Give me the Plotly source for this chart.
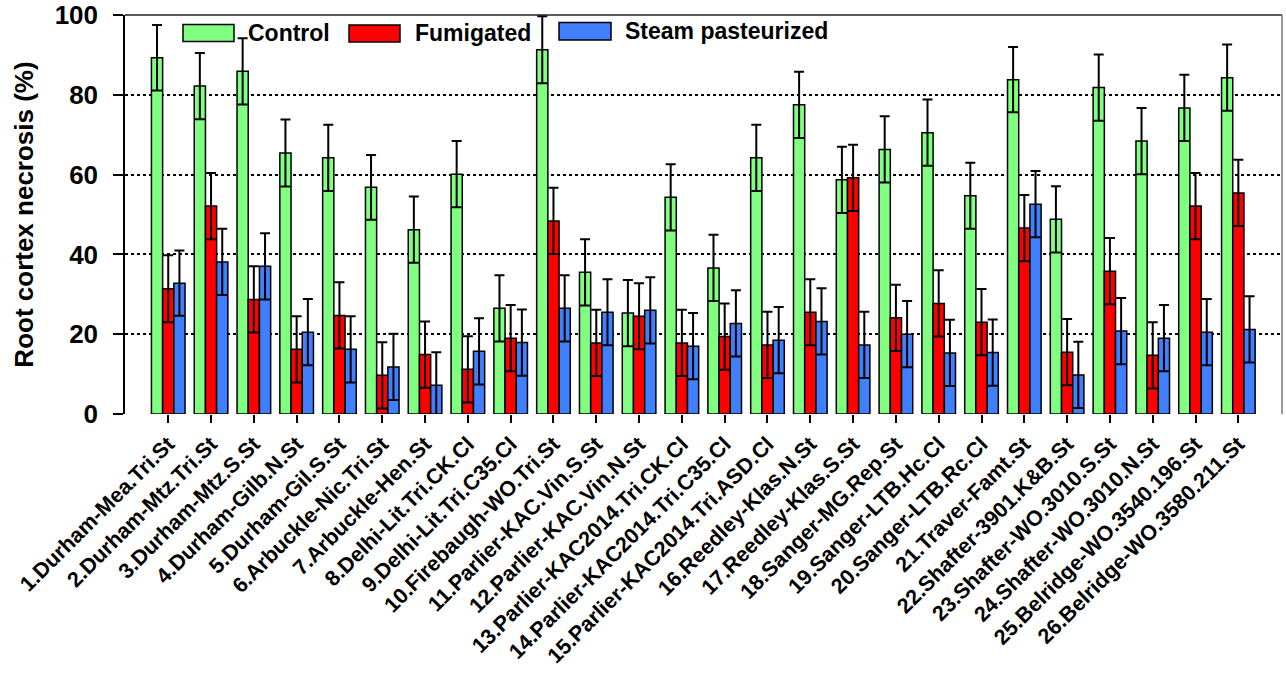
import plotly.graph_objects as go

# Sites (x categories)
sites = [
    "1.Durham-Mea.Tri.St", "2.Durham-Mtz.Tri.St", "3.Durham-Mtz.S.St",
    "4.Durham-Gilb.N.St", "5.Durham-Gil.S.St", "6.Arbuckle-Nic.Tri.St",
    "7.Arbuckle-Hen.St", "8.Delhi-Lit.Tri.CK.Cl", "9.Delhi-Lit.Tri.C35.Cl",
    "10.Firebaugh-WO.Tri.St", "11.Parlier-KAC.Vin.S.St", "12.Parlier-KAC.Vin.N.St",
    "13.Parlier-KAC2014.Tri.CK.Cl", "14.Parlier-KAC2014.Tri.C35.Cl",
    "15.Parlier-KAC2014.Tri.ASD.Cl", "16.Reedley-Klas.N.St", "17.Reedley-Klas.S.St",
    "18.Sanger-MG.Rep.St", "19.Sanger-LTB.Hc.Cl", "20.Sanger-LTB.Rc.Cl",
    "21.Traver-Famt.St", "22.Shafter-3901.K&B.St", "23.Shafter-WO.3010.S.St",
    "24.Shafter-WO.3010.N.St", "25.Belridge-WO.3540.196.St", "26.Belridge-WO.3580.211.St",
]

# Mean root cortex necrosis (%)
control = [89.3, 82.2, 85.9, 65.4, 64.2, 56.8, 46.2, 60.1, 26.5, 91.3,
           35.5, 25.3, 54.3, 36.6, 64.2, 77.5, 58.7, 66.3, 70.5, 54.7,
           83.8, 48.8, 81.8, 68.4, 76.7, 84.3]
fumigated = [31.4, 52.1, 28.7, 16.2, 24.7, 9.7, 14.9, 11.2, 19.0, 48.4,
             17.8, 24.5, 17.8, 19.4, 17.3, 25.5, 59.2, 24.1, 27.7, 23.0,
             46.6, 15.5, 35.8, 14.7, 52.1, 55.4]
steam = [32.8, 38.1, 37.0, 20.5, 16.2, 11.8, 7.2, 15.7, 17.9, 26.5,
         25.5, 26.0, 17.0, 22.7, 18.5, 23.2, 17.3, 20.0, 15.3, 15.4,
         52.6, 9.8, 20.8, 19.0, 20.5, 21.2]

# Standard errors
control_se = [8.2, 8.3, 8.3, 8.4, 8.3, 8.1, 8.3, 8.3, 8.3, 8.4,
              8.3, 8.3, 8.3, 8.3, 8.3, 8.3, 8.3, 8.3, 8.3, 8.3,
              8.2, 8.3, 8.3, 8.3, 8.3, 8.3]
fumigated_se = [8.4, 8.3, 8.3, 8.3, 8.3, 8.3, 8.3, 8.3, 8.3, 8.3,
                8.3, 8.3, 8.3, 8.3, 8.3, 8.3, 8.3, 8.3, 8.3, 8.3,
                8.3, 8.3, 8.3, 8.3, 8.3, 8.3]
steam_se = [8.2, 8.3, 8.3, 8.3, 8.3, 8.3, 8.3, 8.3, 8.3, 8.3,
            8.3, 8.3, 8.3, 8.3, 8.3, 8.3, 8.3, 8.3, 8.3, 8.3,
            8.3, 8.3, 8.3, 8.3, 8.3, 8.3]

series = [
    ("Control", control, control_se, "#80FF80"),
    ("Fumigated", fumigated, fumigated_se, "#FF0000"),
    ("Steam pasteurized", steam, steam_se, "#4080FF"),
]

FONT = "Liberation Sans, Arial, sans-serif"
x_idx = list(range(len(sites)))

fig = go.Figure()
for name, vals, se, color in series:
    fig.add_trace(go.Bar(
        name=name, x=x_idx, y=vals,
        marker=dict(color=color, line=dict(color="black", width=1.5)),
        error_y=dict(type="data", array=se, visible=True,
                     color="black", thickness=2, width=5),
        showlegend=False,
    ))

# Plot-area geometry in pixels (used to place the hand-drawn legend)
W, H = 1286, 676
L, R, T, B = 125, 4, 15, 262
pw, ph = W - L - R, H - T - B


def px(x):
    return (x - L) / pw


def py(y):
    return (H - B - y) / ph


shapes = [
    dict(type="line", xref="paper", yref="paper", x0=0, x1=1, y0=1, y1=1,
         line=dict(color="#222", width=1.5)),
    dict(type="line", xref="paper", yref="paper", x0=1, x1=1, y0=0, y1=1,
         line=dict(color="#777", width=1.5)),
]
annotations = []
legend_items = [
    ("Control", "#80FF80", 183, 234, 24.5, 41.5, 246),
    ("Fumigated", "#FF0000", 349, 400, 25, 42, 413),
    ("Steam pasteurized", "#4080FF", 559, 611, 22.5, 40, 623),
]
for text, color, x0, x1, y0, y1, tx in legend_items:
    shapes.append(dict(type="rect", xref="paper", yref="paper",
                       x0=px(x0), x1=px(x1), y0=py(y1), y1=py(y0),
                       fillcolor=color, line=dict(color="black", width=1.5)))
    annotations.append(dict(xref="paper", yref="paper", x=px(tx), y=py((y0 + y1) / 2),
                            xanchor="left", yanchor="middle", showarrow=False,
                            text=text, font=dict(family=FONT, size=23, color="black",
                                                 weight="bold")))

fig.update_layout(
    width=W, height=H,
    margin=dict(l=L, r=R, t=T, b=B),
    paper_bgcolor="white", plot_bgcolor="white",
    barmode="group", bargap=0.215, bargroupgap=0,
    font=dict(family=FONT, color="black", weight="bold"),
    shapes=shapes, annotations=annotations,
    xaxis=dict(
        range=[-1.01, 26.02], tickmode="array", tickvals=x_idx, ticktext=sites,
        tickangle=-45, ticks="outside", ticklen=8, tickwidth=1.5, tickcolor="black",
        showline=False, showgrid=False, zeroline=False, automargin=False,
        tickfont=dict(family=FONT, size=21.5, color="black", weight="bold"),
    ),
    yaxis=dict(
        range=[0, 100], tickvals=[0, 20, 40, 60, 80, 100],
        ticks="outside", ticklen=10, tickwidth=1.5, tickcolor="black",
        ticklabelstandoff=10, automargin=False,
        showline=True, linecolor="black", linewidth=1.5,
        showgrid=True, gridcolor="black", griddash="dot", gridwidth=1.5,
        zeroline=False,
        tickfont=dict(family=FONT, size=26, color="black", weight="bold"),
        title=dict(text="Root cortex necrosis (%)", standoff=14,
                   font=dict(family=FONT, size=26, color="black", weight="bold")),
    ),
)

fig.write_html("out.html")
